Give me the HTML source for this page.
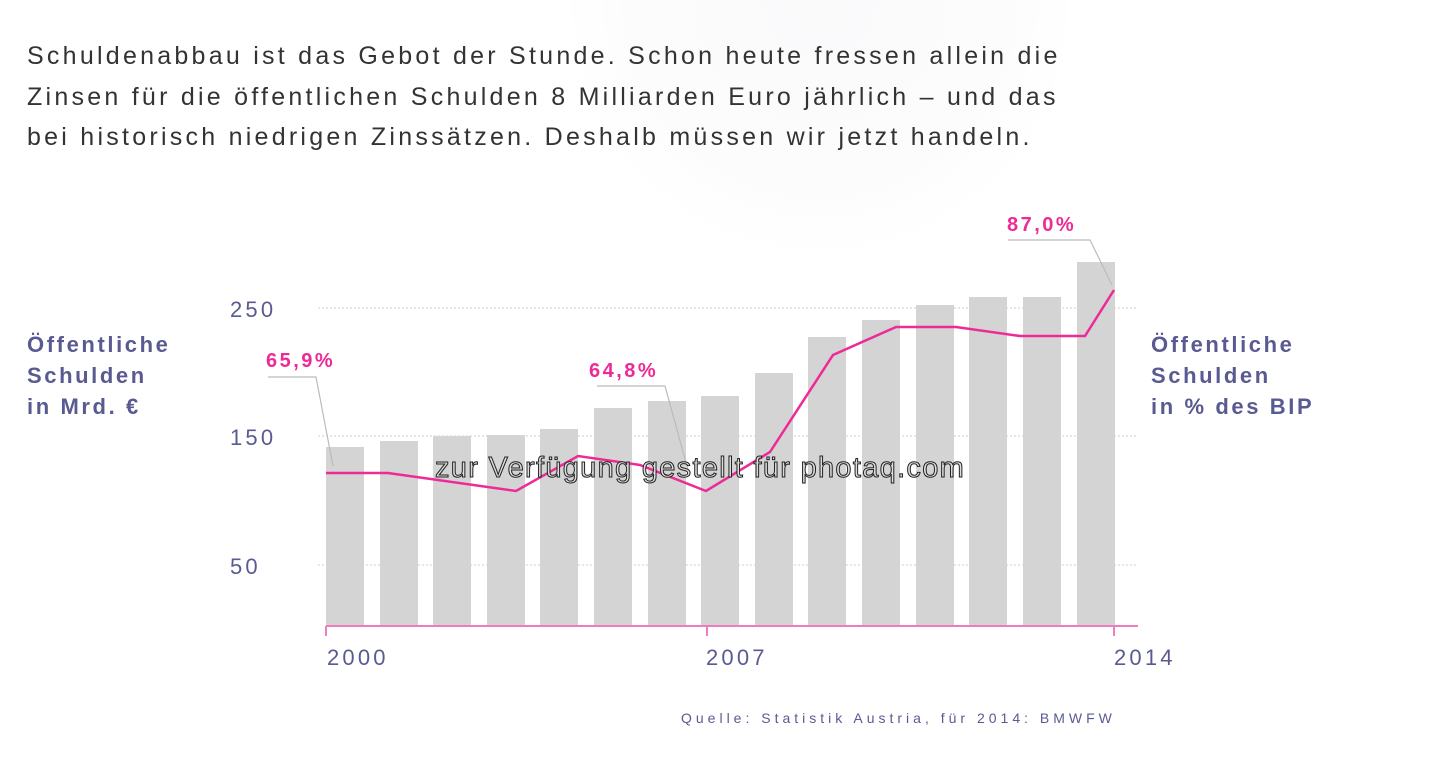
<!DOCTYPE html>
<html><head><meta charset="utf-8"><style>
body{margin:0;width:1440px;height:778px;background:#fff;overflow:hidden;font-family:"Liberation Sans",sans-serif;position:relative}
.h{position:absolute;left:27px;color:#333;font-size:25px;letter-spacing:3.25px;line-height:40.5px;top:36px;white-space:nowrap}
.glow{position:absolute;left:560px;top:-260px;width:520px;height:520px;border-radius:50%;background:radial-gradient(circle,#fafafb 0%,#fcfcfd 50%,rgba(255,255,255,0) 70%)}
</style></head><body>
<div class="glow"></div>
<div class="h">Schuldenabbau ist das Gebot der Stunde. Schon heute fressen allein die<br>Zinsen für die öffentlichen Schulden 8 Milliarden Euro jährlich – und das<br>bei historisch niedrigen Zinssätzen. Deshalb müssen wir jetzt handeln.</div>
<svg width="1440" height="778" style="position:absolute;left:0;top:0" font-family="Liberation Sans, sans-serif">
<g stroke="#ddd" stroke-dasharray="2,2" stroke-width="1.5">
<line x1="318" y1="308" x2="1138" y2="308"/><line x1="318" y1="436" x2="1138" y2="436"/><line x1="318" y1="565" x2="1138" y2="565"/></g>
<g fill="#d4d4d4">
<rect x="326" y="447" width="38" height="179"/>
<rect x="380" y="441" width="38" height="185"/>
<rect x="433" y="436" width="38" height="190"/>
<rect x="487" y="435" width="38" height="191"/>
<rect x="540" y="429" width="38" height="197"/>
<rect x="594" y="408" width="38" height="218"/>
<rect x="648" y="401" width="38" height="225"/>
<rect x="701" y="396" width="38" height="230"/>
<rect x="755" y="373" width="38" height="253"/>
<rect x="808" y="337" width="38" height="289"/>
<rect x="862" y="320" width="38" height="306"/>
<rect x="916" y="305" width="38" height="321"/>
<rect x="969" y="297" width="38" height="329"/>
<rect x="1023" y="297" width="38" height="329"/>
<rect x="1077" y="262" width="38" height="364"/></g>
<g stroke="#bbb" fill="none" stroke-width="1.2">
<polyline points="268,377 316,377 333,466"/>
<polyline points="597,386 665,386 688,470"/>
<polyline points="1008,240 1090,240 1112,285"/></g>
<polyline fill="none" stroke="#ee2a97" stroke-width="2.5" points="326,473 388,473 516,491 578,456 640,465 706,491 770,452 833,355 896,327 956,327 1020,336 1085,336 1114,290"/>
<g stroke="#f07cc0" stroke-width="2"><line x1="326" y1="626" x2="1138" y2="626"/><line x1="326" y1="626" x2="326" y2="636"/><line x1="707" y1="626" x2="707" y2="636"/><line x1="1114" y1="626" x2="1114" y2="636"/></g>
<g fill="#ee2a97" font-weight="bold" font-size="20" letter-spacing="2.5"><text x="266" y="367">65,9%</text><text x="589" y="377">64,8%</text><text x="1007" y="231">87,0%</text></g>
<g fill="#5a5a93" font-size="22" letter-spacing="3.2"><text x="230" y="317">250</text><text x="230" y="445">150</text><text x="230" y="574">50</text>
<text x="327" y="665">2000</text><text x="706" y="665">2007</text><text x="1114" y="665">2014</text></g>
<g fill="#5a5a93" font-size="22" font-weight="bold" letter-spacing="2.6"><text x="27" y="352">Öffentliche</text><text x="27" y="383">Schulden</text><text x="27" y="414">in Mrd. €</text>
<text x="1151" y="352">Öffentliche</text><text x="1151" y="383">Schulden</text><text x="1151" y="414">in % des BIP</text></g>
<text x="681" y="723" fill="#5a5a93" font-size="14" letter-spacing="4">Quelle: Statistik Austria, für 2014:  BMWFW</text>
<text x="435" y="477" fill="#ddd" stroke="#222" stroke-width="1" font-size="29" letter-spacing="1.3">zur Verfügung gestellt für photaq.com</text>
</svg>
</body></html>
